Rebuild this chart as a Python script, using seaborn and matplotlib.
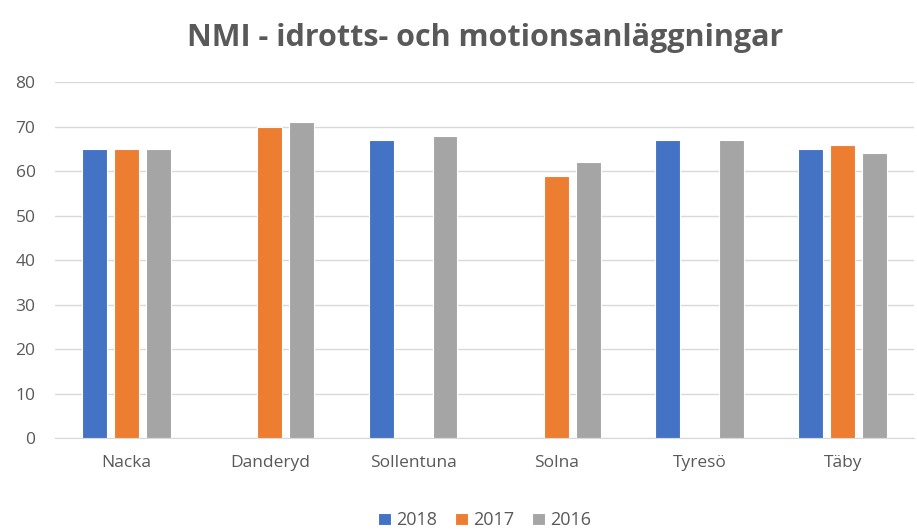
import pandas as pd
import numpy as np
import matplotlib.pyplot as plt
import seaborn as sns

# NMI values per municipality and year (NaN = no value)
kommuner = ["Nacka", "Danderyd", "Sollentuna", "Solna", "Tyresö", "Täby"]
years = ["2018", "2017", "2016"]
v2018 = [65, np.nan, 67, np.nan, 67, 65]
v2017 = [65, 70, np.nan, 59, np.nan, 66]
v2016 = [65, 71, 68, 62, 67, 64]

df = pd.DataFrame({"kommun": kommuner * 3,
                   "år": [y for y in years for _ in kommuner],
                   "NMI": v2018 + v2017 + v2016})

colors = ["#4472C4", "#ED7D31", "#A5A5A5"]
txt = "#595959"

sns.set_style("white")
plt.rcParams["font.family"] = ["Open Sans", "DejaVu Sans"]

fig, ax = plt.subplots(figsize=(9.17, 5.31), dpi=100)
sns.barplot(data=df, x="kommun", y="NMI", hue="år", hue_order=years,
            order=kommuner, palette=colors, saturation=1, width=0.67, gap=0.22,
            edgecolor="white", linewidth=0.8, ax=ax, zorder=3)

ax.set_ylim(0, 80)
ax.set_yticks(range(0, 81, 10))
ax.yaxis.grid(True, color="#D9D9D9", linewidth=1, zorder=0)
ax.set_axisbelow(True)
for s in ["top", "right", "left"]:
    ax.spines[s].set_visible(False)
ax.spines["bottom"].set_color("#D9D9D9")
ax.tick_params(axis="both", length=0, colors=txt, labelsize=12.5)
ax.tick_params(axis="y", pad=14)
ax.tick_params(axis="x", pad=12)
ax.set_xlabel("")
ax.set_ylabel("")
ax.set_title("NMI - idrotts- och motionsanläggningar", fontsize=22,
             fontweight="bold", color=txt, pad=26)

ax.legend(loc="upper center", bbox_to_anchor=(0.5, -0.16), ncol=3,
          frameon=False, fontsize=13, handlelength=0.7, handleheight=0.7,
          handletextpad=0.3, columnspacing=1.0, labelcolor=txt)

plt.subplots_adjust(left=0.06, right=0.997, top=0.845, bottom=0.175)
plt.savefig("out.png", dpi=100)
